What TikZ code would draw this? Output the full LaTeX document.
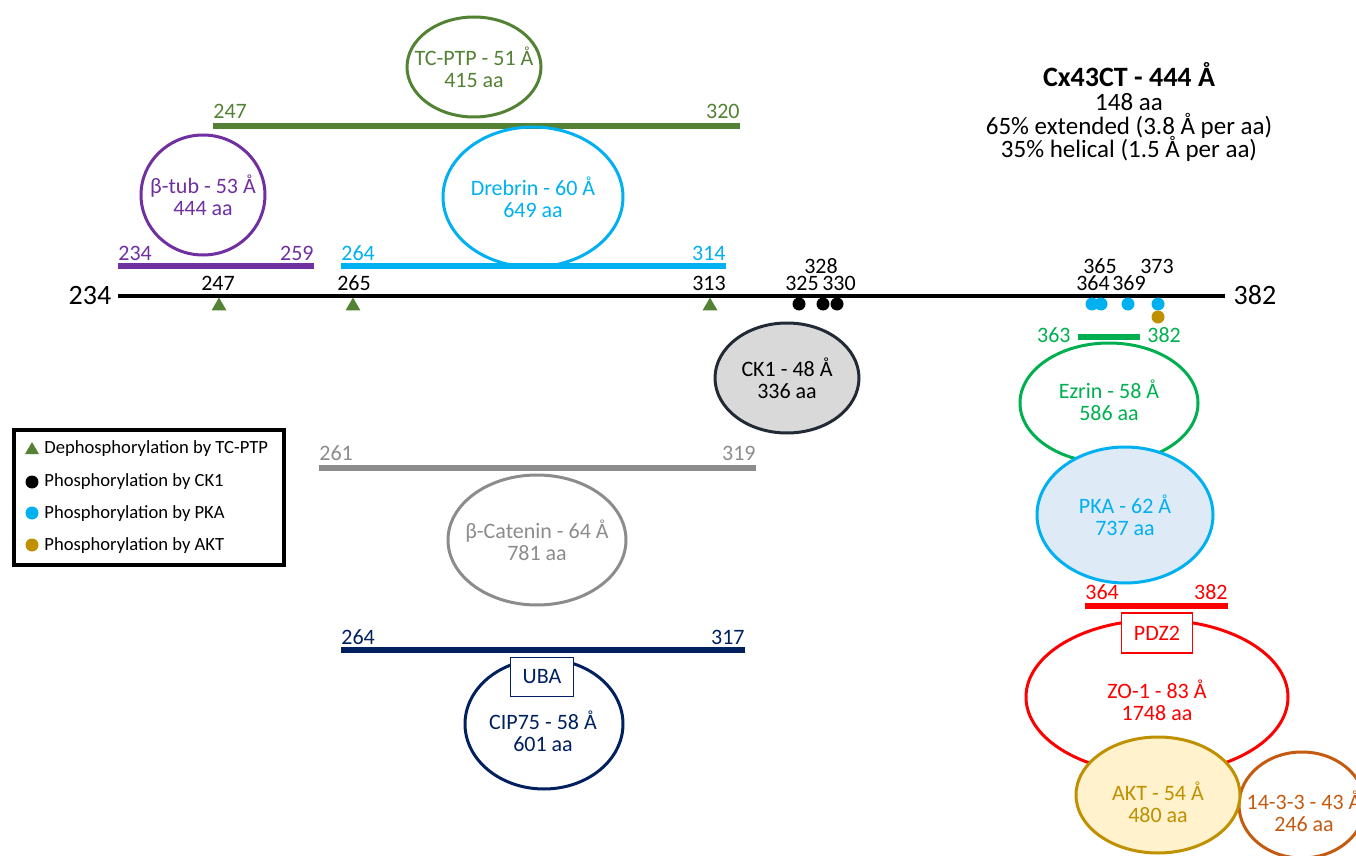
\documentclass[tikz,border=0pt]{standalone}
\usepackage{fontspec}
\setmainfont{Carlito}
\usetikzlibrary{shapes.geometric}
\definecolor{tcgreen}{HTML}{548235}
\definecolor{tubpurple}{HTML}{7030A0}
\definecolor{pkablue}{HTML}{00B0F0}
\definecolor{pkafill}{HTML}{DEEBF7}
\definecolor{ckfill}{HTML}{D9D9D9}
\definecolor{ckdraw}{HTML}{222A35}
\definecolor{ezgreen}{HTML}{00B050}
\definecolor{catgray}{HTML}{8C8C8C}
\definecolor{cipnavy}{HTML}{002060}
\definecolor{zored}{HTML}{FF0000}
\definecolor{aktgold}{HTML}{BF9000}
\definecolor{aktfill}{HTML}{FFF2CC}
\definecolor{ywbrown}{HTML}{C55A11}
\begin{document}
\begin{tikzpicture}[x=0.5pt, y=-0.5pt, font=\fontsize{11}{11}\selectfont,
	protein/.style={ellipse, draw=#1, line width=1.5pt, inner sep=0pt},
	ptext/.style={inner sep=0pt, align=center, text=#1},
	bar/.style={line width=3.3pt},
	num/.style={inner sep=0pt, anchor=base},
	domainbox/.style={rectangle, draw, line width=0.8pt, fill=white, inner sep=0pt},
	site/.style={circle, inner sep=0pt, minimum size=6.5pt},
	tcsite/.style={regular polygon, regular polygon sides=3, fill=tcgreen, inner sep=0pt, minimum size=8.5pt},
	legtext/.style={inner sep=0pt, anchor=base west, font=\fontsize{9.3}{11}\selectfont}]
	\useasboundingbox (0,0) rectangle (1356,856);
	\clip (0,0) rectangle (1356,856);

	% Cx43CT backbone
	\node[num, font=\fontsize{14}{14}\selectfont] (start) at (90,304) {234};
	\node[num, font=\fontsize{14}{14}\selectfont] (end) at (1255,304) {382};
	\coordinate (ct-l) at (118,296);
	\coordinate (ct-r) at (1225,296);
	\draw[line width=2pt] (ct-l) -- (ct-r);

	\node[num] (s247) at (218,291) {247};
	\node[num] (s265) at (354,291) {265};
	\node[num] (s313) at (709,291) {313};
	\node[num] (s325) at (802,291) {325};
	\node[num] (s328) at (821,273) {328};
	\node[num] (s330) at (839,291) {330};
	\node[num] (s364) at (1093,291) {364};
	\node[num] (s365) at (1100,273) {365};
	\node[num] (s369) at (1129,291) {369};
	\node[num] (s373) at (1157,273) {373};

	\node[tcsite] (t247) at (219,306) {};
	\node[tcsite] (t265) at (353,306) {};
	\node[tcsite] (t313) at (710,306) {};
	\node[site, fill=black] (c325) at (799,304) {};
	\node[site, fill=black] (c328) at (823,304) {};
	\node[site, fill=black] (c330) at (837,304) {};
	\node[site, fill=pkablue] (p364) at (1092,304) {};
	\node[site, fill=pkablue] (p365) at (1101,304) {};
	\node[site, fill=pkablue] (p369) at (1128,304) {};
	\node[site, fill=pkablue] (p373) at (1158,304) {};
	\node[site, fill=aktgold] (a373) at (1158,317) {};

	% title
	\node[num, font=\bfseries\fontsize{14}{14}\selectfont] (title) at (1129,87) {Cx43CT - 444 Å};
	\node[num, font=\fontsize{12.5}{13}\selectfont] (taa) at (1129,111) {148 aa};
	\node[num, font=\fontsize{12.5}{13}\selectfont] (text) at (1129,135) {65\% extended (3.8 Å per aa)};
	\node[num, font=\fontsize{12.5}{13}\selectfont] (thel) at (1129,158) {35\% helical (1.5 Å per aa)};

	% TC-PTP
	\draw[bar, tcgreen] (213,126) -- (740,126);
	\node[num, anchor=base west, text=tcgreen] at (213,119) {247};
	\node[num, anchor=base east, text=tcgreen] at (740,119) {320};
	\node[protein=tcgreen, minimum width=67pt, minimum height=50pt] (tcptp) at (474,67) {};
	\node[ptext=tcgreen] at (tcptp) {TC-PTP - 51 Å\\415 aa};

	% beta-tubulin
	\draw[bar, tubpurple] (118,266) -- (314,266);
	\node[num, anchor=base west, text=tubpurple] at (118,260) {234};
	\node[num, anchor=base east, text=tubpurple] at (314,260) {259};
	\node[protein=tubpurple, minimum width=62pt, minimum height=60pt] (btub) at (203,195) {};
	\node[ptext=tubpurple] at (btub) {β-tub - 53 Å\\444 aa};

	% Drebrin
	\draw[bar, pkablue] (341,266) -- (726,266);
	\node[num, anchor=base west, text=pkablue] at (341,260) {264};
	\node[num, anchor=base east, text=pkablue] at (726,260) {314};
	\node[protein=pkablue, minimum width=90pt, minimum height=70pt] (drebrin) at (533,197) {};
	\node[ptext=pkablue] at (drebrin) {Drebrin - 60 Å\\649 aa};

	% CK1
	\node[protein=ckdraw, fill=ckfill, minimum width=72pt, minimum height=55pt] (ck1) at (787,378) {};
	\node[ptext=black] at (ck1) {CK1 - 48 Å\\336 aa};

	% beta-catenin
	\draw[bar, catgray] (319,468) -- (756,468);
	\node[num, anchor=base west, text=catgray] at (319,460) {261};
	\node[num, anchor=base east, text=catgray] at (756,460) {319};
	\node[protein=catgray, minimum width=89pt, minimum height=65pt] (bcat) at (537,540) {};
	\node[ptext=catgray] at (bcat) {β-Catenin - 64 Å\\781 aa};

	% CIP75
	\draw[bar, cipnavy] (341,650) -- (745,650);
	\node[num, anchor=base west, text=cipnavy] at (341,644) {264};
	\node[num, anchor=base east, text=cipnavy] at (745,644) {317};
	\node[protein=cipnavy, minimum width=79pt, minimum height=65pt] (cip75) at (544,724) {};
	\node[ptext=cipnavy] at (543,731) {CIP75 - 58 Å\\601 aa};
	\node[domainbox, draw=cipnavy, text=cipnavy, minimum width=31.5pt, minimum height=19.5pt] (uba) at (542,677) {UBA};

	% Ezrin and PKA
	\draw[bar, ezgreen] (1078,337) -- (1140,337);
	\node[num, anchor=base east, text=ezgreen] at (1071,343) {363};
	\node[num, anchor=base west, text=ezgreen] at (1147,343) {382};
	\node[protein=ezgreen, minimum width=89pt, minimum height=60pt] (ezrin) at (1109,403) {};
	\node[ptext=ezgreen] at (1109,400) {Ezrin - 58 Å\\586 aa};
	\node[protein=pkablue, fill=pkafill, minimum width=88pt, minimum height=68pt] (pka) at (1125,515) {};
	\node[ptext=pkablue] at (pka) {PKA - 62 Å\\737 aa};

	% ZO-1, AKT, 14-3-3
	\draw[bar, zored] (1085,606) -- (1228,606);
	\node[num, anchor=base west, text=zored] at (1085,599) {364};
	\node[num, anchor=base east, text=zored] at (1228,599) {382};
	\node[protein=zored, minimum width=131pt, minimum height=77pt] (zo1) at (1157,697) {};
	\node[ptext=zored] at (1157,700) {ZO-1 - 83 Å\\1748 aa};
	\node[domainbox, draw=zored, text=zored, minimum width=35.5pt, minimum height=20pt] (pdz2) at (1157,633) {PDZ2};
	\node[protein=ywbrown, minimum width=63pt, minimum height=53pt] (ywhaz) at (1302,805) {};
	\node[ptext=ywbrown] at (1304,811) {14-3-3 - 43 Å\\246 aa};
	\node[protein=aktgold, fill=aktfill, minimum width=82pt, minimum height=58pt] (akt) at (1158,795) {};
	\node[ptext=aktgold] at (1158,802) {AKT - 54 Å\\480 aa};

	% legend
	\draw[line width=2pt] (14,430) rectangle (284,565);
	\node[tcsite, minimum size=8pt] (leg1) at (32,450) {};
	\node[site, fill=black] (leg2) at (32,482) {};
	\node[site, fill=pkablue] (leg3) at (32,513) {};
	\node[site, fill=aktgold] (leg4) at (32,545) {};
	\node[legtext] at (44,453) {Dephosphorylation by TC-PTP};
	\node[legtext] at (44,486) {Phosphorylation by CK1};
	\node[legtext] at (44,518) {Phosphorylation by PKA};
	\node[legtext] at (44,550) {Phosphorylation by AKT};
\end{tikzpicture}
\end{document}
